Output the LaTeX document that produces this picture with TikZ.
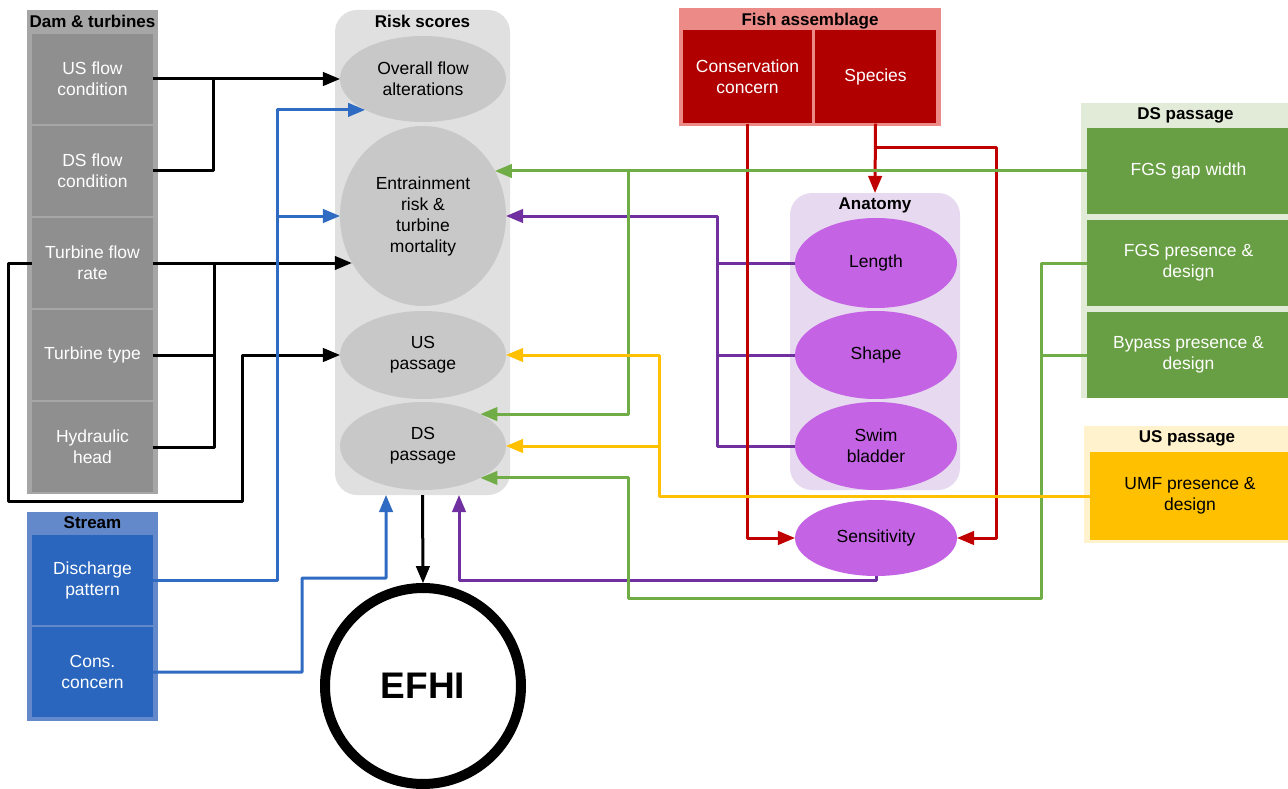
\documentclass[tikz,border=0pt]{standalone}
\usepackage{fontspec}
\setmainfont{Liberation Sans}
\usetikzlibrary{arrows,shapes.geometric}
\definecolor{damout}{HTML}{A6A6A6}
\definecolor{damin}{HTML}{8F8F8F}
\definecolor{riskbg}{HTML}{E0E0E0}
\definecolor{riskell}{HTML}{C8C8C8}
\definecolor{fishout}{HTML}{EB8A86}
\definecolor{fishin}{HTML}{B00000}
\definecolor{redln}{HTML}{C00000}
\definecolor{anatbg}{HTML}{E7DAF0}
\definecolor{anatell}{HTML}{C463E4}
\definecolor{purln}{HTML}{7030A0}
\definecolor{dsout}{HTML}{E2EBD7}
\definecolor{dsin}{HTML}{699F44}
\definecolor{grnln}{HTML}{70AD47}
\definecolor{usout}{HTML}{FFF2CC}
\definecolor{usin}{HTML}{FFC000}
\definecolor{strout}{HTML}{6489CA}
\definecolor{strin}{HTML}{2A66BE}
\definecolor{bluln}{HTML}{2F6BC2}

\begin{document}
\begin{tikzpicture}[x=1pt,y=-1pt,line join=round,>=triangle 45,
    every node/.style={font=\fontsize{17.5}{21}\selectfont,align=center,inner sep=2pt},
    ttl/.style={anchor=north,yshift=-3pt,font=\fontsize{17}{20}\selectfont\bfseries},
    panel/.style={rectangle,inner sep=0pt},
    rpanel/.style={panel,rounded corners=22pt},
    dambox/.style={rectangle,fill=damin,text=white,minimum width=121pt,minimum height=90pt},
    strbox/.style={rectangle,fill=strin,text=white,minimum width=121pt,minimum height=90pt},
    fishbox/.style={rectangle,fill=fishin,text=white,minimum height=93pt},
    dsbox/.style={rectangle,fill=dsin,text=white,minimum width=203pt,minimum height=86pt},
    riskell/.style={ellipse,fill=riskell,minimum width=166pt,minimum height=88pt},
    anatell/.style={ellipse,fill=anatell,minimum width=162pt,minimum height=88pt},
    kline/.style={line width=3pt,black},
    bline/.style={line width=3pt,bluln},
    pline/.style={line width=3pt,purln},
    rline/.style={line width=3pt,redln},
    gline/.style={line width=3pt,grnln},
    yline/.style={line width=3pt,usin}]
    \useasboundingbox (0,0) rectangle (1288,789);
    % panels
    \node[panel,fill=damout,minimum width=131pt,minimum height=484pt] (dam) at (92.5,252) {};
    \node[panel,fill=strout,minimum width=131pt,minimum height=209pt] (stream) at (92.5,616.5) {};
    \node[rpanel,fill=riskbg,minimum width=175pt,minimum height=485pt] (risk) at (422.5,252.5) {};
    \node[panel,fill=fishout,minimum width=262pt,minimum height=118pt] (fish) at (810,67) {};
    \node[rpanel,fill=anatbg,minimum width=170pt,minimum height=297pt] (anat) at (875,341.5) {};
    \node[panel,fill=dsout,minimum width=209pt,minimum height=295pt] (dspanel) at (1185.5,250.5) {};
    \node[panel,fill=usout,minimum width=206pt,minimum height=117pt] (uspanel) at (1187,484.5) {};
    \node[ttl] at (dam.north) {Dam \& turbines};
    \node[ttl] at (stream.north) {Stream};
    \node[ttl] at (risk.north) {Risk scores};
    \node[ttl] at (fish.north) {Fish assemblage};
    \node[ttl] at (anat.north) {Anatomy};
    \node[ttl] at (dspanel.north) {DS passage};
    \node[ttl] at (uspanel.north) {US passage};
    % dam and turbines
    \node[dambox] (usflow) at (92.5,79) {US flow\\condition};
    \node[dambox] (dsflow) at (92.5,171) {DS flow\\condition};
    \node[dambox] (tfr) at (92.5,263) {Turbine flow\\rate};
    \node[dambox] (ttype) at (92.5,355) {Turbine type};
    \node[dambox] (hhead) at (92.5,447) {Hydraulic\\head};
    % stream
    \node[strbox] (dp) at (92.5,580) {Discharge\\pattern};
    \node[strbox] (cc) at (92.5,672) {Cons.\\concern};
    % risk scores
    \node[riskell,minimum height=86pt] (ovflow) at (423,79) {Overall flow\\alterations};
    \node[riskell,minimum height=180pt] (entr) at (423,216) {Entrainment\\risk \&\\turbine\\mortality};
    \node[riskell] (uspas) at (423,355) {US\\passage};
    \node[riskell] (dspas) at (423,446) {DS\\passage};
    % fish
    \node[fishbox,minimum width=129pt] (consc) at (747.5,77) {Conservation\\concern};
    \node[fishbox,minimum width=121pt] (species) at (875.5,77) {Species};
    \node[anatell,minimum height=90pt] (len) at (876,263) {Length};
    \node[anatell] (shape) at (876,355) {Shape};
    \node[anatell] (swim) at (876,446) {Swim\\bladder};
    \node[anatell,minimum height=76pt] (sens) at (876,538) {Sensitivity};
    % passage
    \node[dsbox] (gap) at (1188.5,171) {FGS gap width};
    \node[dsbox] (fgsp) at (1188.5,263) {FGS presence \&\\design};
    \node[dsbox] (bypass) at (1188.5,355) {Bypass presence \&\\design};
    \node[rectangle,fill=usin,minimum width=200pt,minimum height=88pt] (umf) at (1190,496) {UMF presence \&\\design};
    \node[circle,draw,line width=10pt,minimum size=196pt,font=\fontsize{37}{40}\selectfont\bfseries] (efhi) at (423,686) {EFHI};
    % black
    \draw[kline,->] (usflow.east) -- (ovflow.west);
    \draw[kline] (dsflow.east) -- ++(60,0) |- (usflow.east);
    \draw[kline,->] (tfr.east) -- (tfr.east -| entr.213);
    \draw[kline] (ttype.east) -- ++(61,0) |- (tfr.east);
    \draw[kline] (hhead.east) -- ++(61,0) |- (tfr.east);
    \draw[kline,->] (tfr.west) -- ++(-23,0) |- ++(234,238) |- (uspas.west);
    \draw[kline,->] (risk.south) -- (efhi.north);
    % blue
    \draw[bline,->] (dp.east) -- ++(124,0) |- (ovflow.208);
    \draw[bline,->] (dp.east) ++(124,0) |- (entr.west);
    \draw[bline,->] (cc.east) -- ++(149,0) |- ++(84,-94) -- ([xshift=-36.5pt]risk.south);
    % purple
    \draw[pline,->] (len.west) -- ++(-77,0) |- (entr.east);
    \draw[pline] (shape.west) -- ++(-77,0);
    \draw[pline] (swim.west) -- ++(-77,0) |- (len.west);
    \draw[pline,->] (sens.south) -- ++(0,4) -| ([xshift=36.5pt]risk.south);
    % red
    \draw[rline,->] (consc.south) |- (sens.west);
    \draw[rline,->] (species.south) -- (anat.north);
    \draw[rline,->] (species.south) ++(0,24) -- ++(121,0) |- (sens.east);
    % green
    \draw[gline,->] (gap.west) -- (gap.west -| entr.32);
    \draw[gline,->] (gap.west) ++(-458,0) |- (dspas.29);
    \draw[gline,->] (fgsp.west) -- ++(-45,0) |- ++(-413,335) |- (dspas.331);
    \draw[gline] (bypass.west) -- ++(-45,0);
    % yellow
    \draw[yline,->] (umf.west) -- ++(-430,0) |- (uspas.east);
    \draw[yline,->] (umf.west) ++(-430,0) |- (dspas.east);
\end{tikzpicture}
\end{document}
